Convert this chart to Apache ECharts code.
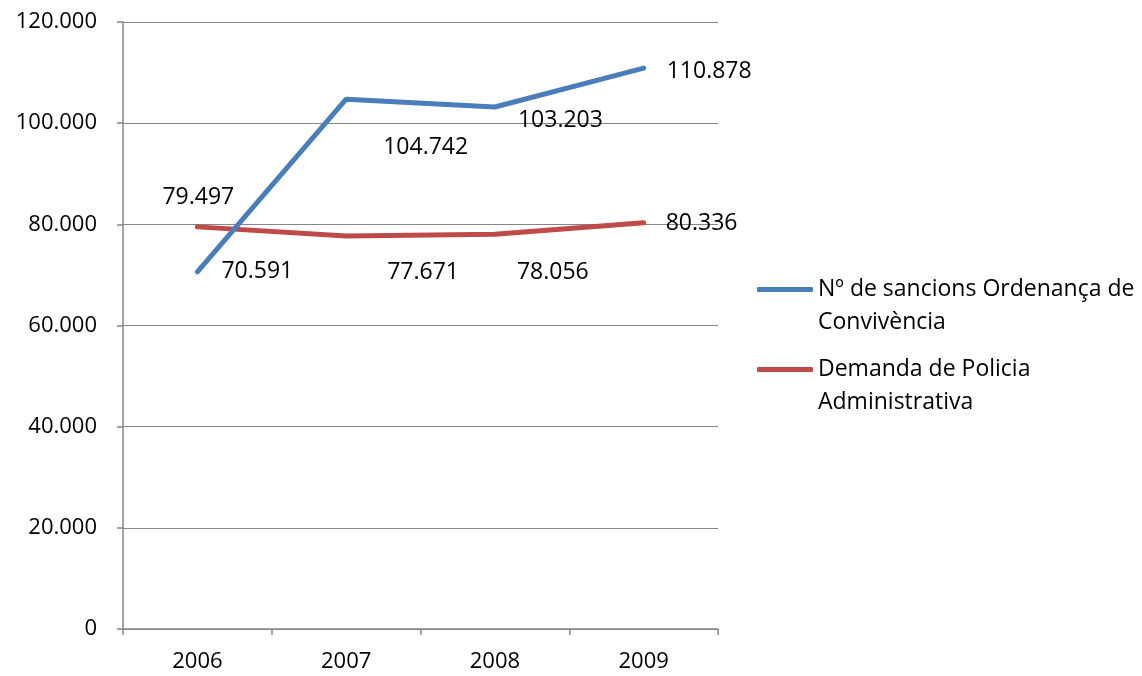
<!DOCTYPE html>
<html>
<head>
<meta charset="utf-8">
<script src="https://cdn.jsdelivr.net/npm/echarts@6/dist/echarts.min.js"></script>
<style>
html,body{margin:0;padding:0;background:#fff;}
#chart{width:1142px;height:676px;}
</style>
</head>
<body>
<div id="chart"></div>
<script>
const years = ['2006', '2007', '2008', '2009'];
const sancions = [70591, 104742, 103203, 110878];
const demanda = [79497, 77671, 78056, 80336];
const seriesNames = ['Nº de sancions Ordenança de Convivència', 'Demanda de Policia Administrativa'];
const legendLines = [['Nº de sancions Ordenança de', 'Convivència'], ['Demanda de Policia', 'Administrativa']];
const yTicks = { min: 0, max: 120000, interval: 20000 };

// label placement offsets (pixels) for each point
const sancionsLabelOffsets = [[24, 0], [37, 48], [23, 13], [23, 3]];
const demandaLabelOffsets = [[-35, -29], [41, 36], [22, 38], [22, 1]];

const FONT = 'Open Sans';
const FS = 22;
const FS_LABEL = 23;

function fmt(v) {
  return String(Math.round(v)).replace(/\B(?=(\d{3})+(?!\d))/g, '.');
}

function buildData(values, offsets) {
  return values.map((v, i) => ({
    value: v,
    label: { offset: offsets[i] }
  }));
}

const chart = echarts.init(document.getElementById('chart'), null, { renderer: 'canvas' });

const blue = '#4A7EBB';
const red = '#BE4B48';
const gray = '#868686';

const labelBase = {
  show: true,
  position: 'right',
  distance: 0,
  color: '#000',
  fontFamily: FONT,
  fontSize: FS_LABEL,
  formatter: p => fmt(p.value)
};

chart.setOption({
  animation: false,
  backgroundColor: '#fff',
  grid: { left: 123, right: 424, top: 22, bottom: 47, containLabel: false },
  legend: {
    orient: 'vertical',
    left: 752,
    top: 235,
    itemWidth: 56,
    itemHeight: 5,
    itemGap: -19,
    icon: 'roundRect',
    data: [
      { name: seriesNames[0] },
      { name: seriesNames[1] }
    ],
    formatter: name => '\n' + legendLines[seriesNames.indexOf(name)].join('\n'),
    textStyle: {
      color: '#000',
      fontFamily: FONT,
      fontSize: FS_LABEL,
      lineHeight: 33
    },
    selectedMode: false
  },
  xAxis: {
    type: 'category',
    data: years,
    boundaryGap: true,
    axisLine: { show: true, lineStyle: { color: gray, width: 1.5 } },
    axisTick: { show: true, length: 6, lineStyle: { color: gray, width: 1.5 } },
    axisLabel: { color: '#000', fontFamily: FONT, fontSize: FS, margin: 22 },
    splitLine: { show: false }
  },
  yAxis: {
    type: 'value',
    min: yTicks.min,
    max: yTicks.max,
    interval: yTicks.interval,
    axisLine: { show: true, lineStyle: { color: gray, width: 1.5 } },
    axisTick: { show: true, length: 6, lineStyle: { color: gray, width: 1.5 } },
    axisLabel: { color: '#000', fontFamily: FONT, fontSize: FS, margin: 26, formatter: v => fmt(v) },
    splitLine: { show: true, lineStyle: { color: gray, width: 1.2 } }
  },
  series: [
    {
      name: seriesNames[0],
      type: 'line',
      data: buildData(sancions, sancionsLabelOffsets),
      symbol: 'circle',
      symbolSize: 0.1,
      showSymbol: true,
      color: blue,
      lineStyle: { color: blue, width: 5, cap: 'round' },
      label: labelBase,
      z: 3
    },
    {
      name: seriesNames[1],
      type: 'line',
      data: buildData(demanda, demandaLabelOffsets),
      symbol: 'circle',
      symbolSize: 0.1,
      showSymbol: true,
      color: red,
      lineStyle: { color: red, width: 5, cap: 'round' },
      label: labelBase,
      z: 2
    }
  ]
});
</script>
</body>
</html>
